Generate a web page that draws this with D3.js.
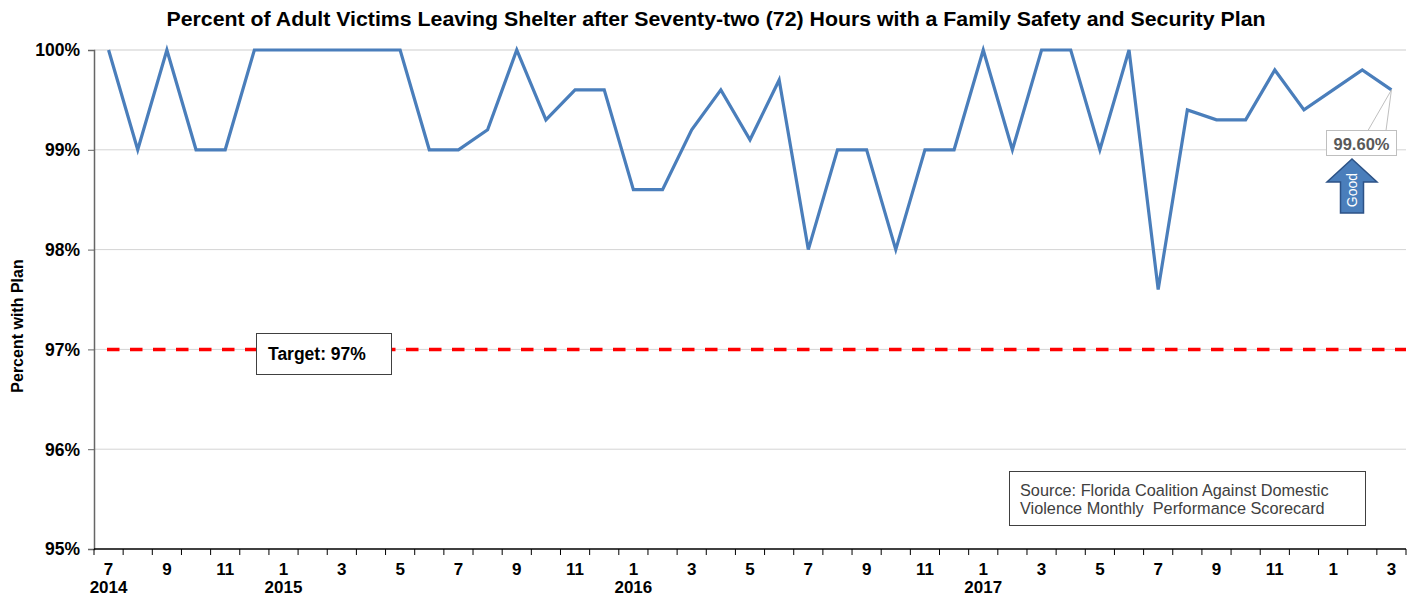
<!DOCTYPE html>
<html>
<head>
<meta charset="utf-8">
<script src="https://cdn.jsdelivr.net/npm/d3@7"></script>
<style>
  html, body { margin: 0; padding: 0; background: #fff; }
  svg { display: block; font-family: "Liberation Sans", Arial, sans-serif; }
</style>
</head>
<body>
<svg id="chart" width="1418" height="596"></svg>
<script>
// Monthly reporting periods, July 2014 through March 2018
const categories = [
  "2014-07","2014-08","2014-09","2014-10","2014-11","2014-12",
  "2015-01","2015-02","2015-03","2015-04","2015-05","2015-06",
  "2015-07","2015-08","2015-09","2015-10","2015-11","2015-12",
  "2016-01","2016-02","2016-03","2016-04","2016-05","2016-06",
  "2016-07","2016-08","2016-09","2016-10","2016-11","2016-12",
  "2017-01","2017-02","2017-03","2017-04","2017-05","2017-06",
  "2017-07","2017-08","2017-09","2017-10","2017-11","2017-12",
  "2018-01","2018-02","2018-03"
];

// Percent of adult victims leaving shelter with a plan
const values = [
  100, 99, 100, 99, 99, 100,
  100, 100, 100, 100, 100, 99,
  99, 99.2, 100, 99.3, 99.6, 99.6,
  98.6, 98.6, 99.2, 99.6, 99.1, 99.7,
  98, 99, 99, 98, 99, 99,
  100, 99, 100, 100, 99, 100,
  97.6, 99.4, 99.3, 99.3, 99.8, 99.4,
  99.6, 99.8, 99.6
];

const target = 97;
const yTicks = [95, 96, 97, 98, 99, 100];
// Month numbers shown under the axis (every other month) and year labels
const shownMonths = ["2014-07","2014-09","2014-11","2015-01","2015-03","2015-05","2015-07",
  "2015-09","2015-11","2016-01","2016-03","2016-05","2016-07","2016-09","2016-11",
  "2017-01","2017-03","2017-05","2017-07","2017-09","2017-11","2018-01","2018-03"];
const yearLabels = [["2014-07","2014"],["2015-01","2015"],["2016-01","2016"],["2017-01","2017"]];

const svg = d3.select("#chart");
const plotLeft = 94, plotRight = 1406, plotTop = 50, plotBottom = 549;

const x = d3.scaleBand().domain(categories).range([plotLeft, plotRight]).padding(0);
const y = d3.scaleLinear().domain([95, 100]).range([plotBottom, plotTop]);
const cx = c => x(c) + x.bandwidth() / 2;

// Title
svg.append("text")
  .attr("x", 716).attr("y", 26)
  .attr("text-anchor", "middle")
  .attr("font-size", 20).attr("font-weight", "bold").attr("fill", "#000")
  .attr("textLength", 1099).attr("lengthAdjust", "spacingAndGlyphs")
  .text("Percent of Adult Victims Leaving Shelter after Seventy-two (72) Hours with a Family Safety and Security Plan");

// Horizontal gridlines
svg.append("g").selectAll("line")
  .data(yTicks.filter(d => d !== 95))
  .join("line")
  .attr("x1", plotLeft).attr("x2", plotRight)
  .attr("y1", d => y(d)).attr("y2", d => y(d))
  .attr("stroke", d => d === 100 ? "#e6e6e6" : "#d4d4d4")
  .attr("stroke-width", d => d === 100 ? 2 : 1);

// Y axis
const yAxis = svg.append("g")
  .attr("transform", `translate(${plotLeft},0)`)
  .call(d3.axisLeft(y).tickValues(yTicks).tickFormat(d => d + "%").tickSize(6).tickPadding(8));
yAxis.select(".domain").attr("stroke", "#666").attr("stroke-width", 1.5);
yAxis.selectAll(".tick line").attr("stroke", "#666");
yAxis.selectAll(".tick text")
  .attr("font-family", "'Liberation Sans', Arial, sans-serif")
  .attr("font-size", 17.5).attr("font-weight", "bold").attr("fill", "#000")
  .attr("dy", "0.34em");

// Y axis title
svg.append("text")
  .attr("transform", "translate(23,326) rotate(-90)")
  .attr("text-anchor", "middle")
  .attr("font-size", 16).attr("font-weight", "bold").attr("fill", "#000")
  .text("Percent with Plan");

// X axis line and boundary ticks
const xAxis = svg.append("g");
xAxis.append("line")
  .attr("x1", plotLeft).attr("x2", plotRight)
  .attr("y1", plotBottom).attr("y2", plotBottom)
  .attr("stroke", "#000").attr("stroke-width", 1.5);
const boundaries = categories.map(c => x(c)).concat([x(categories[categories.length - 1]) + x.bandwidth()]);
xAxis.selectAll("line.tk")
  .data(boundaries)
  .join("line").attr("class", "tk")
  .attr("x1", d => d).attr("x2", d => d)
  .attr("y1", plotBottom).attr("y2", plotBottom + 6)
  .attr("stroke", "#000").attr("stroke-width", 1);

xAxis.selectAll("text.m")
  .data(shownMonths)
  .join("text").attr("class", "m")
  .attr("x", d => cx(d)).attr("y", 575)
  .attr("text-anchor", "middle")
  .attr("font-size", 17).attr("font-weight", "bold").attr("fill", "#000")
  .text(d => String(+d.split("-")[1]));

xAxis.selectAll("text.yr")
  .data(yearLabels)
  .join("text").attr("class", "yr")
  .attr("x", d => cx(d[0])).attr("y", 593)
  .attr("text-anchor", "middle")
  .attr("font-size", 17).attr("font-weight", "bold").attr("fill", "#000")
  .text(d => d[1]);

// Target line
svg.append("line")
  .attr("x1", plotLeft + 13).attr("x2", plotRight)
  .attr("y1", y(target)).attr("y2", y(target))
  .attr("stroke", "#ff0000").attr("stroke-width", 3.5)
  .attr("stroke-dasharray", "12.5,10.5");

// Target label box
svg.append("rect")
  .attr("x", 256.5).attr("y", 333.5).attr("width", 135).attr("height", 41)
  .attr("fill", "#fff").attr("stroke", "#404040").attr("stroke-width", 1);
svg.append("text")
  .attr("x", 268).attr("y", 359.5)
  .attr("font-size", 17.5).attr("font-weight", "bold").attr("fill", "#000")
  .text("Target: " + target + "%");

// Data line
const line = d3.line()
  .x((d, i) => cx(categories[i]))
  .y(d => y(d));
svg.append("path")
  .datum(values)
  .attr("fill", "none")
  .attr("stroke", "#4a7ebb")
  .attr("stroke-width", 3.2)
  .attr("stroke-linejoin", "miter")
  .attr("d", line);

// Callout for the latest value
const lastC = categories[categories.length - 1];
const lastV = values[values.length - 1];
const px = cx(lastC), py = y(lastV);
svg.append("path")
  .attr("d", `M${px},${py} L1368,130.5 M${px},${py} L1386,130.5`)
  .attr("fill", "none").attr("stroke", "#bfbfbf").attr("stroke-width", 1);
svg.append("rect")
  .attr("x", 1326.5).attr("y", 130.5).attr("width", 70).attr("height", 25)
  .attr("fill", "#fff").attr("stroke", "#bfbfbf").attr("stroke-width", 1);
svg.append("text")
  .attr("x", 1361.5).attr("y", 149.5)
  .attr("text-anchor", "middle")
  .attr("font-size", 16.5).attr("font-weight", "bold").attr("fill", "#595959")
  .text(lastV.toFixed(2) + "%");

// "Good" direction arrow
const ax = 1352;
svg.append("path")
  .attr("d", `M${ax},159 L${ax + 25},182 L${ax + 11.5},182 L${ax + 11.5},213 L${ax - 11.5},213 L${ax - 11.5},182 L${ax - 25},182 Z`)
  .attr("fill", "#4a7ebb").attr("stroke", "#2c5286").attr("stroke-width", 1.5)
  .attr("stroke-linejoin", "miter");
svg.append("text")
  .attr("transform", `translate(${ax + 5},190) rotate(-90)`)
  .attr("text-anchor", "middle")
  .attr("font-size", 14).attr("fill", "#fff")
  .text("Good");

// Source note
svg.append("rect")
  .attr("x", 1009.5).attr("y", 471.5).attr("width", 356).attr("height", 54)
  .attr("fill", "#fff").attr("stroke", "#404040").attr("stroke-width", 1);
svg.append("text")
  .attr("x", 1020).attr("y", 496)
  .attr("font-size", 16.3).attr("fill", "#404040")
  .text("Source: Florida Coalition Against Domestic");
svg.append("text")
  .attr("x", 1020).attr("y", 513.5)
  .attr("font-size", 16.3).attr("fill", "#404040")
  .style("white-space", "pre")
  .text("Violence Monthly  Performance Scorecard");
</script>
</body>
</html>
